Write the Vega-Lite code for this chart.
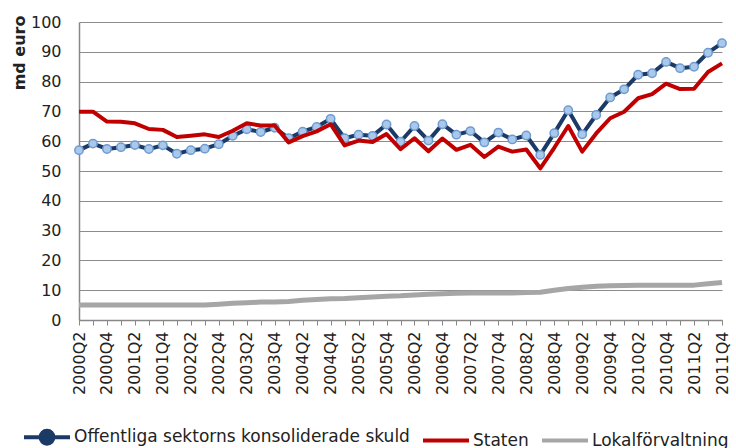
{
  "$schema": "https://vega.github.io/schema/vega-lite/v6.json",
  "width": 643,
  "height": 298,
  "autosize": "none",
  "padding": {"left": 79, "top": 22, "right": 14, "bottom": 128},
  "background": "white",
  "config": {
    "font": "DejaVu Sans",
    "view": {"stroke": null}
  },
  "data": {
    "values": [
      {"q": "2000Q2", "off": 57.0, "stat": 69.9, "lok": 5.0},
      {"q": "2000Q3", "off": 59.2, "stat": 69.9, "lok": 5.0},
      {"q": "2000Q4", "off": 57.4, "stat": 66.6, "lok": 5.0},
      {"q": "2001Q1", "off": 58.0, "stat": 66.5, "lok": 5.0},
      {"q": "2001Q2", "off": 58.7, "stat": 66.0, "lok": 5.0},
      {"q": "2001Q3", "off": 57.4, "stat": 64.1, "lok": 5.0},
      {"q": "2001Q4", "off": 58.6, "stat": 63.8, "lok": 5.0},
      {"q": "2002Q1", "off": 55.8, "stat": 61.4, "lok": 5.0},
      {"q": "2002Q2", "off": 57.0, "stat": 61.8, "lok": 5.0},
      {"q": "2002Q3", "off": 57.5, "stat": 62.3, "lok": 5.0},
      {"q": "2002Q4", "off": 59.0, "stat": 61.4, "lok": 5.3},
      {"q": "2003Q1", "off": 61.8, "stat": 63.5, "lok": 5.6},
      {"q": "2003Q2", "off": 64.0, "stat": 66.0, "lok": 5.8},
      {"q": "2003Q3", "off": 63.1, "stat": 65.3, "lok": 6.0},
      {"q": "2003Q4", "off": 64.5, "stat": 65.3, "lok": 6.0},
      {"q": "2004Q1", "off": 61.0, "stat": 59.6, "lok": 6.2},
      {"q": "2004Q2", "off": 63.2, "stat": 61.7, "lok": 6.6},
      {"q": "2004Q3", "off": 64.8, "stat": 63.3, "lok": 6.9},
      {"q": "2004Q4", "off": 67.5, "stat": 65.7, "lok": 7.1},
      {"q": "2005Q1", "off": 61.0, "stat": 58.6, "lok": 7.2},
      {"q": "2005Q2", "off": 62.2, "stat": 60.2, "lok": 7.5},
      {"q": "2005Q3", "off": 61.8, "stat": 59.7, "lok": 7.7},
      {"q": "2005Q4", "off": 65.6, "stat": 62.4, "lok": 8.0},
      {"q": "2006Q1", "off": 59.8, "stat": 57.3, "lok": 8.1},
      {"q": "2006Q2", "off": 65.1, "stat": 61.0, "lok": 8.4},
      {"q": "2006Q3", "off": 60.2, "stat": 56.6, "lok": 8.6},
      {"q": "2006Q4", "off": 65.7, "stat": 60.9, "lok": 8.8},
      {"q": "2007Q1", "off": 62.2, "stat": 57.1, "lok": 9.0},
      {"q": "2007Q2", "off": 63.4, "stat": 58.8, "lok": 9.1},
      {"q": "2007Q3", "off": 59.6, "stat": 54.7, "lok": 9.1},
      {"q": "2007Q4", "off": 62.9, "stat": 58.2, "lok": 9.1},
      {"q": "2008Q1", "off": 60.6, "stat": 56.5, "lok": 9.1},
      {"q": "2008Q2", "off": 61.9, "stat": 57.2, "lok": 9.2},
      {"q": "2008Q3", "off": 55.4, "stat": 50.9, "lok": 9.3},
      {"q": "2008Q4", "off": 62.7, "stat": 57.8, "lok": 10.0},
      {"q": "2009Q1", "off": 70.4, "stat": 65.1, "lok": 10.6},
      {"q": "2009Q2", "off": 62.3, "stat": 56.5, "lok": 11.0},
      {"q": "2009Q3", "off": 68.8, "stat": 62.6, "lok": 11.3},
      {"q": "2009Q4", "off": 74.7, "stat": 67.7, "lok": 11.5},
      {"q": "2010Q1", "off": 77.4, "stat": 69.9, "lok": 11.6},
      {"q": "2010Q2", "off": 82.3, "stat": 74.4, "lok": 11.7},
      {"q": "2010Q3", "off": 82.8, "stat": 75.8, "lok": 11.7},
      {"q": "2010Q4", "off": 86.6, "stat": 79.3, "lok": 11.7},
      {"q": "2011Q1", "off": 84.5, "stat": 77.5, "lok": 11.7},
      {"q": "2011Q2", "off": 85.0, "stat": 77.6, "lok": 11.7},
      {"q": "2011Q3", "off": 89.7, "stat": 83.2, "lok": 12.2},
      {"q": "2011Q4", "off": 92.9, "stat": 86.1, "lok": 12.6}
    ]
  },
  "transform": [
    {"fold": ["off", "stat", "lok"], "as": ["key", "v"]},
    {"calculate": "datum.key == 'off' ? 'Offentliga sektorns konsoliderade skuld' : datum.key == 'stat' ? 'Staten' : 'Lokalförvaltning'", "as": "serie"}
  ],
  "encoding": {
    "x": {
      "field": "q",
      "type": "ordinal",
      "sort": null,
      "scale": {"type": "point", "padding": 0},
      "axis": {
        "title": null,
        "labelAngle": -90,
        "labelFontSize": 16,
        "labelColor": "#222",
        "labelPadding": 6,
        "labelExpr": "(substring(datum.value,5,6) == '2' || substring(datum.value,5,6) == '4') ? datum.value : ''",
        "labelOverlap": false,
        "ticks": true,
        "tickSize": 5,
        "tickColor": "#888",
        "domainColor": "#888",
        "domainWidth": 1.5,
        "grid": false
      }
    },
    "y": {
      "field": "v",
      "type": "quantitative",
      "scale": {"domain": [0, 100], "nice": false},
      "axis": {
        "values": [0, 10, 20, 30, 40, 50, 60, 70, 80, 90, 100],
        "title": "md euro",
        "titleFontSize": 16,
        "titleFontWeight": "bold",
        "titleColor": "#222",
        "titleAngle": 270,
        "titleAlign": "right",
        "titleBaseline": "alphabetic",
        "titleX": -55,
        "titleY": -7,
        "labelFontSize": 16,
        "labelColor": "#222",
        "labelPadding": 18,
        "ticks": false,
        "domainColor": "#888",
        "domainWidth": 1.5,
        "grid": true,
        "gridColor": "#8c8c8c",
        "gridWidth": 1.2
      }
    },
    "color": {
      "field": "serie",
      "type": "nominal",
      "scale": {
        "domain": ["Offentliga sektorns konsoliderade skuld", "Staten", "Lokalförvaltning"],
        "range": ["#1b3a66", "#c00000", "#a6a6a6"]
      },
      "legend": {
        "title": null,
        "orient": "none",
        "legendX": -57,
        "legendY": 390,
        "direction": "horizontal",
        "columns": 3,
        "columnPadding": 5,
        "symbolType": "stroke",
        "symbolSize": 2116,
        "symbolStrokeWidth": 4,
        "labelFontSize": 17,
        "labelColor": "#222",
        "labelLimit": 500,
        "labelOffset": 2,
        "encode": {
          "symbols": {
            "update": {
              "shape": {"signal": "datum.value == 'Offentliga sektorns konsoliderade skuld' ? 'M-1,0H-0.28M0.28,0H1M0.28,0A0.28,0.28,0,1,1,-0.28,0A0.28,0.28,0,1,1,0.28,0Z' : 'stroke'"},
              "fill": {"signal": "datum.value == 'Offentliga sektorns konsoliderade skuld' ? '#a9c8ea' : 'transparent'"},
              "fillOpacity": {"value": 1}
            }
          }
        }
      }
    }
  },
  "layer": [
    {
      "transform": [{"filter": "datum.key == 'off'"}],
      "mark": {"type": "line", "strokeWidth": 4, "strokeJoin": "round"}
    },
    {
      "transform": [{"filter": "datum.key == 'off'"}],
      "mark": {"type": "point", "filled": true, "size": 70, "fill": "#a9c8ea", "stroke": "#6f9bd1", "strokeWidth": 1.5, "opacity": 1}
    },
    {
      "transform": [{"filter": "datum.key == 'stat'"}],
      "mark": {"type": "line", "strokeWidth": 4, "strokeJoin": "round"}
    },
    {
      "transform": [{"filter": "datum.key == 'lok'"}],
      "mark": {"type": "line", "strokeWidth": 5, "strokeJoin": "round"}
    }
  ]
}
